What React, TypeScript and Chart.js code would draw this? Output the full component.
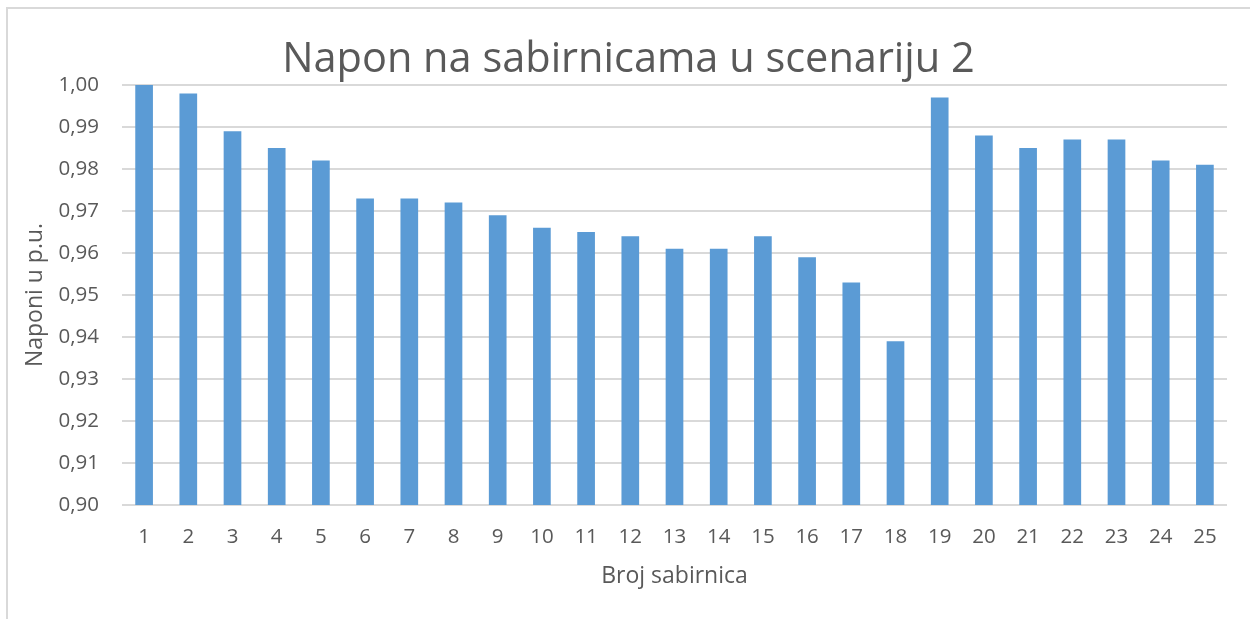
import React, { useEffect, useRef } from "react";
import { Chart, registerables } from "chart.js";

Chart.register(...registerables);

const categories = ["1","2","3","4","5","6","7","8","9","10","11","12","13","14","15","16","17","18","19","20","21","22","23","24","25"];
const voltages = [1.000,0.998,0.989,0.985,0.982,0.973,0.973,0.972,0.969,0.966,0.965,0.964,0.961,0.961,0.964,0.959,0.953,0.939,0.997,0.988,0.985,0.987,0.987,0.982,0.981];
const titleText = "Napon na sabirnicama u scenariju 2";
const yTitle = "Naponi u p.u.";
const xTitle = "Broj sabirnica";

const FONT = "'Open Sans', 'Noto Sans', sans-serif";
const TEXT = "#595959";

export default function App() {
  const ref = useRef<HTMLCanvasElement | null>(null);
  useEffect(() => {
    if (!ref.current) return;
    const chart = new Chart(ref.current, {
      type: "bar",
      data: {
        labels: categories,
        datasets: [{
          data: voltages,
          backgroundColor: "#5b9bd5",
          borderWidth: 0,
          categoryPercentage: 1,
          barPercentage: 0.4,
        }],
      },
      options: {
        animation: false,
        responsive: true,
        maintainAspectRatio: false,
        layout: { padding: { left: 30, right: 23, top: 0, bottom: 0 } },
        plugins: {
          legend: { display: false },
          tooltip: { enabled: false },
          title: {
            display: true,
            text: titleText,
            color: TEXT,
            font: { family: FONT, size: 41.5, weight: "normal" },
            padding: { top: 35.2, bottom: 0 },
          },
        },
        scales: {
          x: {
            grid: { display: false, drawTicks: false },
            border: { display: false },
            ticks: { color: TEXT, font: { family: FONT, size: 20.5 }, padding: 20, maxRotation: 0, autoSkip: false },
            title: { display: true, text: xTitle, color: TEXT, font: { family: FONT, size: 23 }, padding: { top: 0, bottom: 29 } },
            afterFit: (s: any) => { s.height = 114; },
          },
          y: {
            min: 0.9,
            max: 1.0,
            grid: { color: "#d9d9d9", lineWidth: 2, drawTicks: false },
            border: { display: false },
            ticks: {
              stepSize: 0.01,
              color: TEXT,
              font: { family: FONT, size: 20.5 },
              padding: 23,
              callback: (v: any) => Number(v).toFixed(2).replace(".", ","),
            },
            title: { display: true, text: yTitle, color: TEXT, font: { family: FONT, size: 23 }, padding: { top: -8, bottom: 0 } },
            afterFit: (s: any) => { s.width = 92; },
          },
        },
      },
    });
    return () => chart.destroy();
  }, []);
  return (
    <div style={{ position: "fixed", left: 0, top: 0, width: 1250, height: 619, background: "#fff" }}>
      <div style={{ position: "absolute", left: 6, top: 7, width: 1400, height: 800, borderLeft: "2px solid #d9d9d9", borderTop: "2px solid #d9d9d9" }} />
      <canvas ref={ref} style={{ position: "absolute", left: 0, top: 0 }} />
    </div>
  );
}
